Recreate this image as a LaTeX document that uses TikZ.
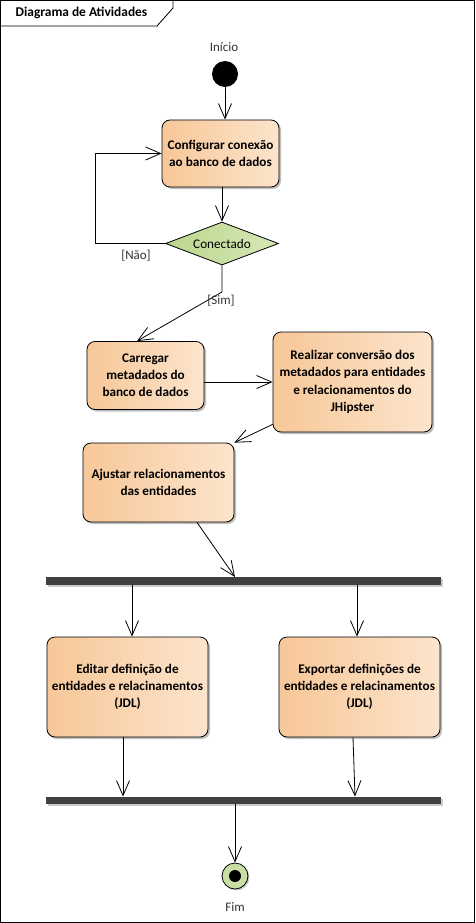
\documentclass[tikz,border=0pt]{standalone}
\usepackage{fontspec}
\setmainfont{Carlito}
\usepackage{tikz}
\usetikzlibrary{arrows.meta,shapes.geometric,shadows,calc,positioning}

\definecolor{actleft}{RGB}{247,199,152}
\definecolor{actright}{RGB}{252,228,204}
\definecolor{decleft}{RGB}{186,214,140}
\definecolor{decright}{RGB}{214,232,184}
\definecolor{barcol}{RGB}{64,64,64}

\tikzset{
  activity/.style={rectangle, rounded corners=8pt, draw=black, thick,
    left color=actleft, right color=actright, align=center,
    font=\fontsize{13.2}{17.2}\selectfont\bfseries, inner sep=2pt,
    drop shadow={shadow xshift=2pt, shadow yshift=-2pt, fill=black, opacity=.25}},
  decision/.style={diamond, aspect=2.6, draw=black, thick, inner sep=0pt,
    left color=decleft, right color=decright, minimum width=113pt, minimum height=43pt,
    font=\fontsize{13.2}{15}\selectfont},
  syncbar/.style={rectangle, fill=barcol, minimum width=395pt, minimum height=7.5pt, inner sep=0pt,
    drop shadow={shadow xshift=2pt, shadow yshift=-2pt, fill=black, opacity=.2}},
  flow/.style={-{Straight Barb[length=15pt,width=13pt]}, thick},
  lbl/.style={font=\fontsize{13}{15}\selectfont, text=black!80}
}

\begin{document}
\begin{tikzpicture}[x=1pt,y=-1pt]

\useasboundingbox (0,0) rectangle (475,923);
\draw[thick] (0.5,0.5) rectangle (474.5,922.5);
\draw[thick] (0.5,26) -- (157,26) -- (173,8) -- (173,0.5);
\node[font=\fontsize{13.4}{15}\selectfont\bfseries] (titulo) at (81.5,13) {Diagrama de Atividades};

\node[circle, fill=black, minimum size=26pt, inner sep=0pt] (inicio) at (225,74) {};
\node[lbl] (inicio lbl) at (224,47) {Início};

\node[activity, minimum width=117pt, minimum height=67pt] (configurar) at (220.5,153.5)
  {Configurar conexão\\ao banco de dados};
\node[decision] (conectado) at (222,243.5) {Conectado};

\node[activity, minimum width=117pt, minimum height=68pt] (carregar) at (145.5,375.5)
  {Carregar\\metadados do\\banco de dados};
\node[activity, minimum width=159pt, minimum height=100pt] (conversao) at (352.5,382)
  {Realizar conversão dos\\metadados para entidades\\e relacionamentos do\\JHipster};
\node[activity, minimum width=151pt, minimum height=79pt] (ajustar) at (158.5,482.5)
  {Ajustar relacionamentos\\das entidades};

\node[syncbar] (fork) at (243.5,581) {};

\node[activity, minimum width=161pt, minimum height=100pt] (editar) at (127.5,687)
  {Editar definição de\\entidades e relacinamentos\\(JDL)};
\node[activity, minimum width=161pt, minimum height=100pt] (exportar) at (359.5,687)
  {Exportar definições de\\entidades e relacinamentos\\(JDL)};

\node[syncbar] (join) at (243.5,800.5) {};

\node[circle, draw=black, thick, fill=decleft!80!white, minimum size=26pt, inner sep=0pt,
  drop shadow={shadow xshift=1.5pt, shadow yshift=-1.5pt, fill=black, opacity=.2},
  path picture={\fill[black] (path picture bounding box.center) circle (6pt);}] (fim) at (235,876) {};
\node[lbl] (fim lbl) at (235,907) {Fim};

\draw[flow] (inicio) -- (configurar.north -| inicio);
\draw[flow] (configurar.south -| conectado) -- (conectado.north);
\draw[flow] (conectado.west) -- (95,243.5) |- (configurar.west);
\node[lbl] (nao) at (136,256) {[Não]};
\draw[flow] (conectado.south) -- (222,292) -- ([xshift=-8.5pt]carregar.north);
\node[lbl] (sim) at (221,301) {[Sim]};
\draw[flow] (carregar.east |- conversao.west) -- (conversao.west);
\draw[flow] ([yshift=8pt]conversao.south west) -- (ajustar.north east);
\draw[flow] ([xshift=38.5pt]ajustar.south) -- ([xshift=-8.5pt]fork.north);

\draw[flow] (fork.south -| 132,0) -- ([xshift=4.5pt]editar.north);
\draw[flow] (fork.south -| 357,0) -- ([xshift=-2.5pt]exportar.north);
\draw[flow] ([xshift=-4.5pt]editar.south) -- (join.north -| 123,0);
\draw[flow] ([xshift=-6.5pt]exportar.south) -- (join.north -| 355,0);
\draw[flow] (join.south -| fim) -- (fim.north);

\end{tikzpicture}
\end{document}
